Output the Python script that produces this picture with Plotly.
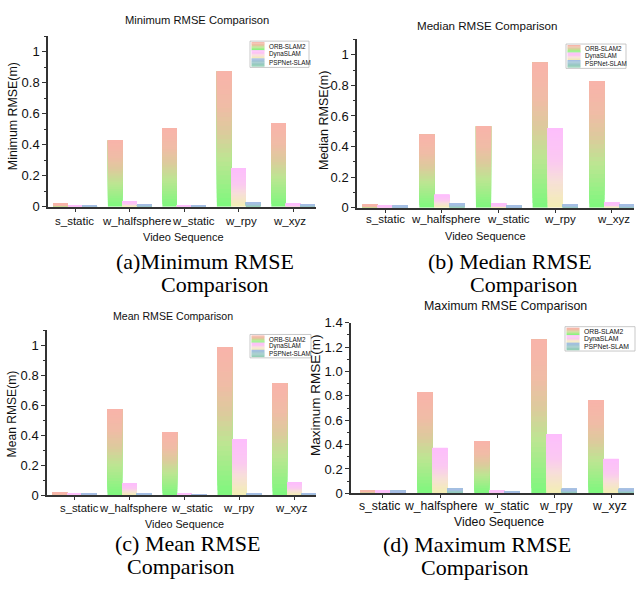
import plotly.graph_objects as go

W, H = 636, 591

categories = ["s_static", "w_halfsphere", "w_static", "w_rpy", "w_xyz"]
series_names = ["ORB-SLAM2", "DynaSLAM", "PSPNet-SLAM"]

# Minimum RMSE (m)
min_orb = [0.017, 0.430, 0.507, 0.872, 0.541]
min_dyna = [0.010, 0.033, 0.008, 0.247, 0.017]
min_psp = [0.009, 0.015, 0.005, 0.027, 0.015]
# Median RMSE (m)
med_orb = [0.017, 0.478, 0.533, 0.947, 0.829]
med_dyna = [0.012, 0.083, 0.026, 0.522, 0.030]
med_psp = [0.010, 0.026, 0.010, 0.019, 0.017]
# Mean RMSE (m)
mean_orb = [0.015, 0.575, 0.421, 0.987, 0.745]
mean_dyna = [0.010, 0.078, 0.011, 0.371, 0.084]
mean_psp = [0.008, 0.013, 0.006, 0.011, 0.013]
# Maximum RMSE (m)
max_orb = [0.021, 0.827, 0.429, 1.261, 0.765]
max_dyna = [0.015, 0.373, 0.019, 0.485, 0.280]
max_psp = [0.013, 0.037, 0.005, 0.032, 0.032]

yticks_small = [0, 0.2, 0.4, 0.6, 0.8, 1.0]
yticklabels_small = ["0", "0.2", "0.4", "0.6", "0.8", "1"]
yticks_max = [0, 0.2, 0.4, 0.6, 0.8, 1.0, 1.2, 1.4]
yticklabels_max = ["0", "0.2", "0.4", "0.6", "0.8", "1.0", "1.2", "1.4"]

panel_titles = ["Minimum RMSE Comparison", "Median RMSE Comparison",
                "Mean RMSE Comparison", "Maximum RMSE Comparison"]
y_titles = ["Minimum RMSE(m)", "Median RMSE(m)", "Mean RMSE(m)", "Maximum RMSE(m)"]
captions = [("(a)Minimum RMSE", "Comparison"), ("(b) Median RMSE", "Comparison"),
            ("(c) Mean RMSE", "Comparison"), ("(d) Maximum RMSE", "Comparison")]
x_title = "Video Sequence"

# gradient stops (fraction of bar height from bottom -> colour)
GRAD = {
    "ORB-SLAM2": [(0.0, (125, 248, 125)), (0.35, (189, 229, 146)), (0.55, (220, 203, 156)),
                  (0.75, (240, 188, 166)), (1.0, (249, 179, 170))],
    "DynaSLAM": [(0.0, (243, 239, 178)), (0.35, (247, 222, 218)), (0.6, (251, 200, 242)),
                 (1.0, (253, 190, 252))],
    "PSPNet-SLAM": [(0.0, (146, 207, 178)), (1.0, (166, 189, 230))],
}


def grad_color(name, t):
    stops = GRAD[name]
    for (t0, c0), (t1, c1) in zip(stops[:-1], stops[1:]):
        if t <= t1:
            f = (t - t0) / (t1 - t0) if t1 > t0 else 0
            c = [round(a + (b - a) * f) for a, b in zip(c0, c1)]
            return "rgb(%d,%d,%d)" % tuple(c)
    return "rgb(%d,%d,%d)" % stops[-1][1]


def px_x(p):
    return p / W


def px_y(p):
    return 1 - p / H


panels = [
    dict(data=[min_orb, min_dyna, min_psp], xd=(48, 316), yd=(205, 30), yr=[0, 1.1], xr=[-0.5, 4.42],
         ticks=(yticks_small, yticklabels_small), ytf=13,
         title=(197, 13, 11.2), ytitle=(13, 112, 12.4),
         xlab=(220, 11.5, [-1, 7, 9, 2, -4]), xtitle=(183, 236, 11),
         cap=((205, 261), (215, 285)), legend=(250, 35, 59, 27, 6.3)),
    dict(data=[med_orb, med_dyna, med_psp], xd=(357, 634), yd=(206, 33.3), yr=[0, 1.1], xr=[-0.5, 4.39],
         ticks=(yticks_small, yticklabels_small), ytf=13,
         title=(487, 19, 11.6), ytitle=(324, 117, 12.5),
         xlab=(218, 11.5, [0, 4, 10, 5, 2]), xtitle=(485, 235, 11),
         cap=((510, 261), (524, 285)), legend=(566, 38, 60, 25, 6.3)),
    dict(data=[mean_orb, mean_dyna, mean_psp], xd=(47, 316), yd=(501, 331.6), yr=[0, 1.1], xr=[-0.5, 4.39],
         ticks=(yticks_small, yticklabels_small), ytf=13,
         title=(173, 317, 10.6), ytitle=(12, 418, 12.1),
         xlab=(514, 11.3, [5, 3, 7, -1, -3]), xtitle=(184, 530, 10.8),
         cap=((187, 550), (181, 574)), legend=(250, 336, 61, 24, 6.3)),
    dict(data=[max_orb, max_dyna, max_psp], xd=(351, 634), yd=(499, 324), yr=[0, 1.4], xr=[-0.56, 4.4],
         ticks=(yticks_max, yticklabels_max), ytf=13,
         title=(505, 307, 12.4), ytitle=(316, 398, 13.5),
         xlab=(512, 12.2, [-3, 1, 9, 2, -2]), xtitle=(499, 528, 12.3),
         cap=((477, 551), (475, 575)), legend=(565, 328, 70, 25, 6.8)),
]

N = 30
fig = go.Figure()
layout = dict(width=W, height=H, margin=dict(l=0, r=0, t=0, b=0), autosize=False,
              paper_bgcolor="white", plot_bgcolor="white", barmode="group",
              bargap=0.2, bargroupgap=0, showlegend=False,
              font=dict(family="Liberation Sans, Arial", color="#111"))
annotations = []
shapes = []


def ann(text, x, y, size, **kw):
    d = dict(text=text, x=px_x(x), y=px_y(y), xref="paper", yref="paper", showarrow=False,
             xanchor="center", yanchor="middle", font=dict(size=size, color="#111"))
    d.update(kw)
    return d


for i, p in enumerate(panels):
    sfx = "" if i == 0 else str(i + 1)
    xa, ya = "x" + sfx, "y" + sfx
    for name, vals in zip(series_names, p["data"]):
        for k in range(N):
            f0 = k / N
            fig.add_trace(go.Bar(
                x=categories, y=[v * (1 - f0) for v in vals], base=[v * f0 for v in vals],
                offsetgroup=name, name=name, xaxis=xa, yaxis=ya,
                marker=dict(color=grad_color(name, f0 + 0.5 / N), line=dict(width=0)),
                showlegend=False, hoverinfo="skip"))
    tv, tt = p["ticks"]
    layout["xaxis" + sfx] = dict(
        domain=[px_x(p["xd"][0]), px_x(p["xd"][1])], anchor=ya, range=p["xr"],
        showline=True, linecolor="#333", linewidth=1.5, ticks="outside", ticklen=3,
        tickcolor="#333", showticklabels=False, showgrid=False, zeroline=False)
    layout["yaxis" + sfx] = dict(
        domain=[px_y(p["yd"][0]), px_y(p["yd"][1])], anchor=xa, range=p["yr"],
        showline=True, linecolor="#333", linewidth=1.5, ticks="outside", ticklen=4,
        tickcolor="#333", tickvals=tv, ticktext=tt, tickfont=dict(size=p["ytf"], color="#111"),
        minor=dict(dtick=0.1, tick0=0, ticks="outside", ticklen=2, tickcolor="#333"),
        showgrid=False, zeroline=False)
    # category labels (placed like the reference, slightly offset from bar centres)
    ly_, lfs, shifts = p["xlab"]
    for c, sh in zip(categories, shifts):
        annotations.append(dict(text=c, x=c, xref=xa, y=px_y(ly_), yref="paper", xshift=sh,
                                showarrow=False, xanchor="center", yanchor="middle",
                                font=dict(size=lfs, color="#111")))
    tx, ty, tfs = p["title"]
    annotations.append(ann(panel_titles[i], tx, ty, tfs))
    yx, yy, yfs = p["ytitle"]
    annotations.append(ann(y_titles[i], yx, yy, yfs, textangle=-90))
    vx, vy, vfs = p["xtitle"]
    annotations.append(ann(x_title, vx, vy, vfs))
    for line, (cx, cy) in zip(captions[i], p["cap"]):
        a = ann(line, cx, cy, 22)
        a["font"] = dict(family="Liberation Serif, Times New Roman", size=22, color="#000")
        annotations.append(a)
    # legend box
    lx, lyy, lw, lh, fs = p["legend"]
    shapes.append(dict(type="rect", xref="paper", yref="paper", x0=px_x(lx), x1=px_x(lx + lw),
                       y0=px_y(lyy + lh), y1=px_y(lyy), line=dict(color="#BBBBBB", width=0.8),
                       fillcolor="white", layer="above"))
    row_h = (lh - 2) / 3
    for r, name in enumerate(series_names):
        top = lyy + 1 + row_h * r
        S = 6
        for s in range(S):
            t = 1 - (s + 0.5) / S
            shapes.append(dict(type="rect", xref="paper", yref="paper", x0=px_x(lx + 1.5),
                               x1=px_x(lx + 14.5), y0=px_y(top + (s + 1) * row_h / S + 0.2),
                               y1=px_y(top + s * row_h / S), line=dict(width=0),
                               fillcolor=grad_color(name, t), layer="above"))
        annotations.append(ann(name, lx + 16.5, top + row_h / 2, fs, xanchor="left"))

layout["annotations"] = annotations
layout["shapes"] = shapes
fig.update_layout(**layout)
fig.write_html("out.html")
